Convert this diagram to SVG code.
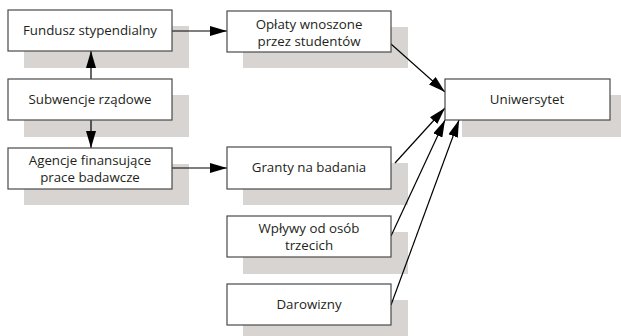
<svg xmlns="http://www.w3.org/2000/svg" width="621" height="336" viewBox="0 0 621 336">
  <defs>
    <marker id="arrow" viewBox="0 0 17 10" refX="17" refY="5" markerWidth="17" markerHeight="10" markerUnits="userSpaceOnUse" orient="auto">
      <path d="M0,0 L17,5 L0,10 Z" fill="#000"/>
    </marker>
    <style>
      .shadow { fill: #d7d4d1; }
      .box { fill: #fff; stroke: #4a4a4a; stroke-width: 1.2; }
      .label { font-family: "Open Sans", "Noto Sans", sans-serif; font-size: 13.3px; fill: #231f20; text-anchor: middle; }
      .link { stroke: #000; stroke-width: 1.2; fill: none; marker-end: url(#arrow); }
    </style>
  </defs>
  <rect width="621" height="336" fill="#fff"/>

  <!-- drop shadows -->
  <g id="shadows">
    <rect class="shadow" x="24" y="26" width="165" height="42"/>
    <rect class="shadow" x="24" y="95" width="165" height="42"/>
    <rect class="shadow" x="24" y="164" width="165" height="41"/>
    <rect class="shadow" x="243" y="27" width="165" height="41"/>
    <rect class="shadow" x="243" y="163" width="165" height="42"/>
    <rect class="shadow" x="243" y="232" width="165" height="42"/>
    <rect class="shadow" x="243" y="300" width="165" height="36"/>
    <rect class="shadow" x="462" y="95" width="159" height="42"/>
  </g>

  <!-- connectors -->
  <g id="connectors">
    <line class="link" x1="91" y1="79" x2="91" y2="51"/>
    <line class="link" x1="91" y1="120" x2="91" y2="148"/>
    <line class="link" x1="172" y1="31" x2="227" y2="31"/>
    <line class="link" x1="172" y1="168" x2="227" y2="168"/>
    <line class="link" x1="391" y1="44" x2="445" y2="92"/>
    <line class="link" x1="395" y1="163" x2="445" y2="108"/>
    <line class="link" x1="391" y1="236" x2="445" y2="120"/>
    <line class="link" x1="391" y1="305" x2="459" y2="120"/>
  </g>

  <g id="fundusz">
    <rect class="box" x="8" y="10" width="164" height="41"/>
    <text class="label" x="90" y="35">Fundusz stypendialny</text>
  </g>
  <g id="subwencje">
    <rect class="box" x="8" y="79" width="164" height="41"/>
    <text class="label" x="90" y="104">Subwencje rządowe</text>
  </g>
  <g id="agencje">
    <rect class="box" x="8" y="148" width="164" height="41"/>
    <text class="label" x="90" y="165">Agencje finansujące</text>
    <text class="label" x="90" y="182">prace badawcze</text>
  </g>
  <g id="oplaty">
    <rect class="box" x="227" y="11" width="164" height="41"/>
    <text class="label" x="309" y="29">Opłaty wnoszone</text>
    <text class="label" x="309" y="46">przez studentów</text>
  </g>
  <g id="granty">
    <rect class="box" x="227" y="147" width="164" height="42"/>
    <text class="label" x="309" y="172">Granty na badania</text>
  </g>
  <g id="wplywy">
    <rect class="box" x="227" y="216" width="164" height="41"/>
    <text class="label" x="309" y="233">Wpływy od osób</text>
    <text class="label" x="309" y="250">trzecich</text>
  </g>
  <g id="darowizny">
    <rect class="box" x="227" y="284" width="164" height="41"/>
    <text class="label" x="309" y="309">Darowizny</text>
  </g>
  <g id="uniwersytet">
    <rect class="box" x="445" y="79" width="165" height="41"/>
    <text class="label" x="527" y="104">Uniwersytet</text>
  </g>
</svg>
